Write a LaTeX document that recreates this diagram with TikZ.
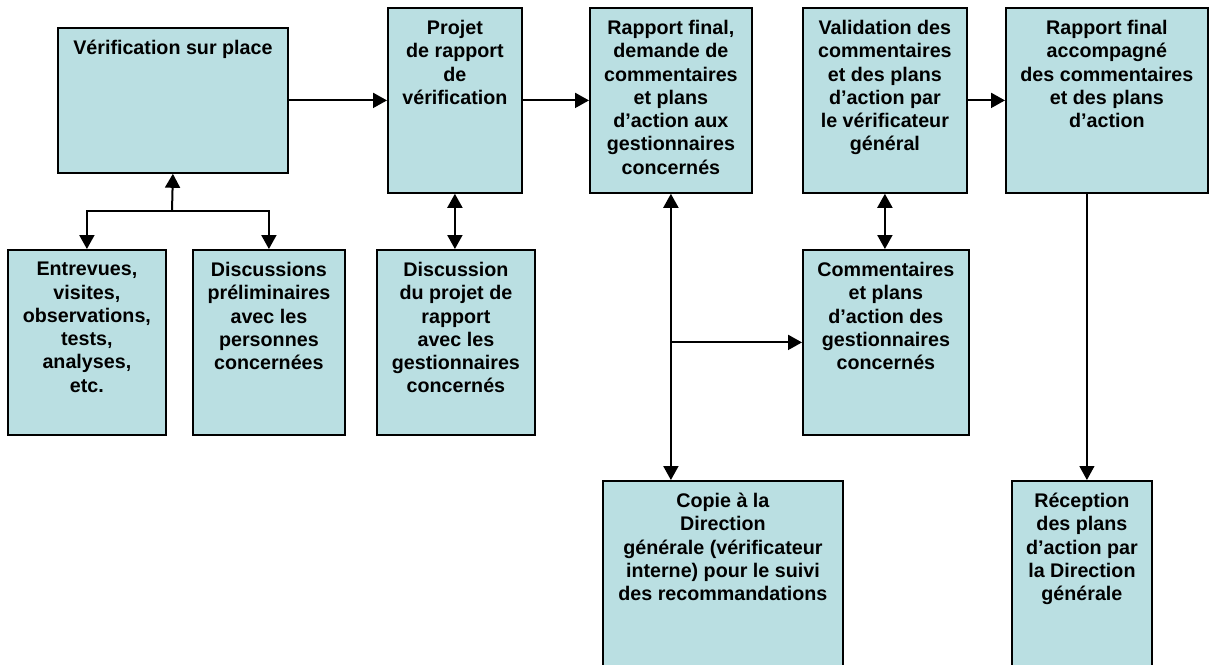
\documentclass[tikz,border=0pt]{standalone}
\usepackage{fontspec}
\setmainfont{Liberation Sans}
\usetikzlibrary{arrows.meta}
\definecolor{turquoise}{RGB}{186,223,226}

\begin{document}
\begin{tikzpicture}[x=1pt,y=-1pt,
    >={Triangle[length=14pt,width=15pt]},
    etape/.style 2 args={draw,fill=turquoise,line width=1.8pt,anchor=north west,
        minimum width=#1,minimum height=#2,inner sep=0pt},
    texte/.style={anchor=north,align=center,inner sep=0pt,yshift=-13pt,
        font=\bfseries\fontsize{19.7}{23.3}\selectfont},
    fleche/.style={line width=2pt}]
    \clip (0,0) rectangle (1209,664);

    % rangee du haut
    \node[etape={230pt}{145pt},label={[texte]north:V\'erification sur place}] (verif) at (57,27) {};
    \node[etape={134pt}{185pt},label={[texte]north:{Projet\\de rapport\\de\\vérification}}] (projet) at (387,7) {};
    \node[etape={162pt}{185pt},label={[texte]north:{Rapport final,\\demande de\\commentaires\\et plans\\d’action aux\\gestionnaires\\concernés}}] (final) at (589,7) {};
    \node[etape={164pt}{185pt},label={[texte]north:{Validation des\\commentaires\\et des plans\\d’action par\\le vérificateur\\général}}] (validation) at (802,7) {};
    \node[etape={202pt}{185pt},label={[texte]north:{Rapport final\\accompagné\\des commentaires\\et des plans\\d’action}}] (accompagne) at (1005,7) {};

    % rangee du milieu
    \node[etape={158pt}{185pt},label={[texte]north:{Entrevues,\\visites,\\observations,\\tests,\\analyses,\\etc.}}] (entrevues) at (7,249) {};
    \node[etape={152pt}{185pt},label={[texte]north:{Discussions\\préliminaires\\avec les\\personnes\\concernées}}] (prelim) at (192,249) {};
    \node[etape={158pt}{185pt},label={[texte]north:{Discussion\\du projet de\\rapport\\avec les\\gestionnaires\\concernés}}] (discussion) at (376,249) {};
    \node[etape={166pt}{185pt},label={[texte]north:{Commentaires\\et plans\\d’action des\\gestionnaires\\concernés}}] (commentaires) at (802,249) {};

    % rangee du bas
    \node[etape={240pt}{200pt},label={[texte]north:{Copie à la\\Direction\\générale (vérificateur\\interne) pour le suivi\\des recommandations}}] (copie) at (602,480) {};
    \node[etape={140pt}{200pt},label={[texte]north:{Réception\\des plans\\d’action par\\la Direction\\générale}}] (reception) at (1011,480) {};

    % fleches
    \coordinate (embr) at (172,211);
    \draw[fleche,->] (embr) -- (verif.south);
    \draw[fleche,->] (embr) -| (entrevues.north);
    \draw[fleche,->] (embr) -| (prelim.north);

    \draw[fleche,->] (verif.east) -- (projet.west);
    \draw[fleche,->] (projet.east) -- (final.west);
    \draw[fleche,->] (validation.east) -- (accompagne.west);

    \draw[fleche,<->] (projet.south) -- (projet.south |- discussion.north);
    \draw[fleche,<->] (final.south) -- (final.south |- copie.north);
    \draw[fleche,->] (final.south |- commentaires.west) -- (commentaires.west);
    \draw[fleche,<->] (validation.south) -- (validation.south |- commentaires.north);
    \draw[fleche,->,line width=1.2pt] ([xshift=5pt]reception.north |- accompagne.south) -- ([xshift=5pt]reception.north);
\end{tikzpicture}
\end{document}
